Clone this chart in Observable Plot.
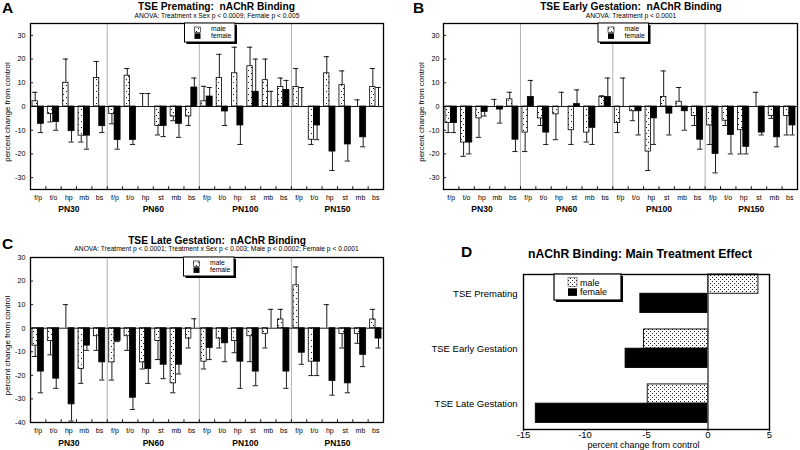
<!DOCTYPE html>
<html><head><meta charset="utf-8">
<script src="https://cdn.jsdelivr.net/npm/d3@7"></script>
<script src="https://cdn.jsdelivr.net/npm/@observablehq/plot@0.6"></script>
<style>
html,body{margin:0;padding:0;background:#fff;}
#root{position:relative;width:800px;height:450px;overflow:hidden;font-family:"Liberation Sans",Arial,sans-serif;}
.panel{position:absolute;}
#overlay{position:absolute;left:0;top:0;pointer-events:none;}
</style></head><body>
<svg width="0" height="0" style="position:absolute">
<defs>
<pattern id="stip" width="5" height="6" patternUnits="userSpaceOnUse"><rect width="5" height="6" fill="white"/><rect x="1" y="1" width="1" height="1" fill="#111"/><rect x="3" y="4" width="1" height="1" fill="#111"/></pattern>
<pattern id="stipD" width="4" height="4" patternUnits="userSpaceOnUse"><rect width="4" height="4" fill="white"/><rect x="0" y="0" width="1" height="1" fill="#222"/><rect x="2" y="2" width="1" height="1" fill="#222"/></pattern>
</defs></svg>
<div id="root"></div>
<script>
// ---------- data ----------
const ages = ["PN30", "PN60", "PN100", "PN150"];
const regionsPN30 = ["f/p", "t/o", "hp", "mb", "bs"];
const regionsLater = ["f/p", "t/o", "hp", "st", "mb", "bs"];
const regionsByAge = [regionsPN30, regionsLater, regionsLater, regionsLater];

// A: TSE Premating
const premMale      = [2.2, -3.2, 10, -12.3, 12,  -3.2, 13, 0, -8.2, -4.2, -4.2,  2.2, 12, 14, 17, 11.1, 8.2,  8.2, -14, 14, 9, 0, 8.2];
const premMaleSem   = [3.8, 3.3, 10, 2.7, 7,  4.1, 3, 5.5, 3.8, 1.8, 3.8,  6.3, 10, 11, 8, 8.9, 3.8,  7.8, 2, 7, 6, 2.8, 7.8];
const premFemale    = [-7.3, -6.5, -10.4, -12.3, -8.3,  -14.1, -14.1, 0, -8.2, -7.3, 8,  4.2, -2.1, -8, 6.2, 0, 7,  0, -8, -19, -16, -13, 0];
const premFemaleSem = [3.7, 3.5, 4.6, 5.7, 2.7,  3.9, 1.9, 5.5, 4.5, 5.7, 4,  3.8, 5.9, 8, 13.8, 6.4, 4,  8, 6, 8, 7, 4, 8];

// B: TSE Early Gestation
const earlyMale      = [-7, -15.2, -5, 0, 3,  -11, -5, -3.3, -10, -11, 4,  -7, -2, -19, 4, 2, -4,  -8, -6, -10, 0, -4, -4];
const earlyMaleSem   = [4, 5.8, 8, 3, 3,  8, 3, 10.7, 6, 4, 0.5,  4, 4, 8, 11, 6, 4,  8, 2, 10, 6, 1, 8];
const earlyFemale    = [-7, -15.2, -2.3, -1.3, -14,  4, -11, 0, 1, -9, 4,  0, -2, -5, -3, -2, -14,  -20, -12, -17, -11, -13, -8];
const earlyFemaleSem = [4, 4.8, 1.7, 5.7, 5,  7, 5, 6, 6, 7, 8,  12, 10, 11, 9, 8, 4,  8, 8, 3, 1, 4, 4];

// C: TSE Late Gestation
const lateMale      = [-7.4, -5.4, 0, -17.3, -3.4,  -14.5, -3.4, -14.5, -5.4, -23.4, -4.4,  -14.2, -4.4, -5.4, -3.4, -2.4, 3.7,  18.2, -14.2, 0, -2.4, -2.4, 3.7];
const lateMaleSem   = [4.6, 5.9, 10, 6.1, 6,  7.5, 6, 2.8, 7.9, 4, 4,  3.1, 4, 5, 10.8, 6, 4.3,  7.8, 5.9, 10, 6, 4, 4.3];
const lateFemale    = [-18.4, -21.4, -32.3, -7.4, -14.5,  -5.4, -29.5, -17.3, -15.5, -15.5, 0,  -8.4, -6.4, -14.2, -18.4, 0, -18.4,  -10.4, -14.2, -22.4, -23.4, -11.3, -4.4];
const lateFemaleSem = [9, 4.1, 7.1, 2, 7.5,  0.3, 5, 6.1, 5.9, 3.9, 4,  4.9, 7.8, 11.3, 6, 8, 7.1,  4.9, 5.9, 6, 4, 5, 4];

// D: main treatment effect
const treatments = ["TSE Premating", "TSE Early Gestation", "TSE Late Gestation"];
const mainMale   = [4.1, -5.2, -4.9];
const mainFemale = [-5.5, -6.7, -14.0];

const ticksAB = [30, 20, 10, 0, -10, -20, -30];
const ticksC  = [30, 20, 10, 0, -10, -20, -30, -40];
const ticksD  = [-15, -10, -5, 0, 5];

// ---------- derived ----------
const slots = [];
regionsByAge.forEach((regs, g) => regs.forEach(r => slots.push({age: ages[g], region: r, i: slots.length})));
const groups = ages.map(a => {
  const s = slots.filter(d => d.age === a);
  return {age: a, start: s[0].i, end: s[s.length - 1].i + 1};
});

const FONT = "'Liberation Sans', Arial, Helvetica, sans-serif";
const root = document.getElementById("root");

function place(node, left, top) {
  const div = document.createElement("div");
  div.className = "panel";
  div.style.left = left + "px";
  div.style.top = top + "px";
  div.appendChild(node);
  root.appendChild(div);
}

function barPanel(o) {
  const rows = [];
  slots.forEach((s, k) => {
    rows.push({i: s.i, sex: "male", value: o.male[k], sem: o.maleSem[k]});
    rows.push({i: s.i, sex: "female", value: o.female[k], sem: o.femaleSem[k]});
  });
  const span = {male: [0.13, 0.48], female: [0.48, 0.87]};
  const ctr = d => d.i + (span[d.sex][0] + span[d.sex][1]) / 2;
  const end = d => d.value + (d.value < 0 ? -1 : 1) * d.sem;
  const [y0, y1] = o.yDomain;
  return Plot.plot({
    width: 400, height: 225,
    marginLeft: o.ml, marginRight: o.mr, marginTop: o.mt, marginBottom: o.mb,
    x: {domain: [0, slots.length], axis: null},
    y: {domain: o.yDomain, ticks: o.yTicks, tickSize: 0, tickPadding: o.tp, label: null, tickFormat: d => String(d)},
    style: {fontFamily: FONT, fontSize: "7.2px", background: "transparent", overflow: "visible"},
    marks: [
      Plot.ruleX(groups.slice(1), {x: "start", stroke: "#a8a8a8", strokeWidth: 0.9}),
      Plot.ruleX(rows, {x: ctr, y1: "value", y2: end, stroke: "black", strokeWidth: 0.9}),
      Plot.ruleY(rows, {y: end, x1: d => ctr(d) - 0.17, x2: d => ctr(d) + 0.17, stroke: "black", strokeWidth: 0.9}),
      Plot.rectY(rows.filter(d => d.sex === "male"), {x1: d => d.i + span.male[0], x2: d => d.i + span.male[1], y1: () => 0, y2: "value", fill: "url(#stip)", stroke: "black", strokeWidth: 0.8}),
      Plot.rectY(rows.filter(d => d.sex === "female"), {x1: d => d.i + span.female[0], x2: d => d.i + span.female[1], y1: () => 0, y2: "value", fill: "black", stroke: "black", strokeWidth: 0.8}),
      Plot.ruleY([0], {stroke: "black", strokeWidth: 0.9}),
      Plot.ruleY(o.yTicks, {y: d => d, x1: () => 0, x2: () => 0.2, stroke: "black", strokeWidth: 0.9}),
      Plot.ruleX(d3.range(1, slots.length), {x: d => d, y1: () => y0, y2: () => y0 + (y1 - y0) * 0.017, stroke: "black", strokeWidth: 0.9}),
      Plot.text(slots, {x: d => d.i + 0.5, y: () => y0, text: "region", dy: o.labDy, fontSize: 7, fontFamily: FONT}),
      Plot.text(groups, {x: d => (d.start + d.end) / 2, y: () => y0, text: "age", dy: o.grpDy, fontSize: 8.5, fontWeight: "bold", fontFamily: FONT}),
      Plot.text(["percent change from control"], {text: d => d, frameAnchor: "left", textAnchor: "middle", lineAnchor: "middle", dx: o.titleDx, dy: 5.5, rotate: -90, fontSize: 8, fontFamily: FONT}),
      Plot.frame({stroke: "black", strokeWidth: 1.3})
    ]
  });
}

place(barPanel({male: premMale, maleSem: premMaleSem, female: premFemale, femaleSem: premFemaleSem,
  yDomain: [-35, 35], yTicks: ticksAB, ml: 30, mr: 17, mt: 23, mb: 36, tp: 5, labDy: 8, grpDy: 20, titleDx: -23}), 0, 0);
place(barPanel({male: earlyMale, maleSem: earlyMaleSem, female: earlyFemale, femaleSem: earlyFemaleSem,
  yDomain: [-35, 35], yTicks: ticksAB, ml: 43, mr: 3, mt: 23, mb: 36, tp: 4, labDy: 8, grpDy: 20, titleDx: -22}), 400, 0);
place(barPanel({male: lateMale, maleSem: lateMaleSem, female: lateFemale, femaleSem: lateFemaleSem,
  yDomain: [-40, 30], yTicks: ticksC, ml: 30, mr: 17, mt: 32, mb: 28, tp: 5, labDy: 8, grpDy: 21, titleDx: -23}), 0, 225);

// Panel D
(function () {
  const H = 225, mt = 49, mb = 21;
  const inner = H - mt - mb;
  const pIn = 0.3, pOut = 0.06;
  const step = inner / (treatments.length - pIn + 2 * pOut);
  const half = step * (1 - pIn) / 2;
  const maleRows = treatments.map((t, k) => ({t, v: mainMale[k]}));
  const femaleRows = treatments.map((t, k) => ({t, v: mainFemale[k]}));
  const p = Plot.plot({
    width: 400, height: H, marginLeft: 123, marginRight: 31, marginTop: mt, marginBottom: mb,
    x: {domain: [-15, 5], ticks: ticksD, tickSize: 2, tickPadding: 0, tickFormat: d => String(d), label: null},
    y: {domain: treatments, paddingInner: pIn, paddingOuter: pOut, align: 0, round: false, tickSize: 0, tickPadding: 6, label: null},
    style: {fontFamily: FONT, fontSize: "9.5px", background: "transparent", overflow: "visible"},
    marks: [
      Plot.barX(maleRows, {x: "v", y: "t", fill: "url(#stipD)", stroke: "black", strokeWidth: 0.9, insetBottom: half}),
      Plot.barX(femaleRows, {x: "v", y: "t", fill: "black", stroke: "black", strokeWidth: 0.9, insetTop: half}),
      Plot.ruleX([0], {stroke: "#555", strokeWidth: 1.6}),
      Plot.text(["percent change from control"], {text: d => d, frameAnchor: "bottom", textAnchor: "middle", lineAnchor: "middle", dy: 15.5, dx: -3, fontSize: 9, fontFamily: FONT}),
      Plot.frame({stroke: "black", strokeWidth: 1.4})
    ]
  });
  place(p, 400, 225);
})();

// ---------- overlay: titles, letters, legends ----------
const ov = d3.select(root).append("svg").attr("id", "overlay").attr("width", 800).attr("height", 450)
  .style("font-family", FONT);

function txt(x, y, s, size, weight, anchor) {
  ov.append("text").attr("x", x).attr("y", y).attr("font-size", size).attr("font-weight", weight || "normal")
    .attr("text-anchor", anchor || "start").attr("fill", "black").style("white-space", "pre").text(s);
}
txt(2, 13, "A", 15.5, "bold");
txt(413, 13, "B", 15.5, "bold");
txt(2, 249, "C", 15.5, "bold");
txt(461, 257, "D", 15.5, "bold");

txt(216.5, 10.3, "TSE Premating:  nAChR Binding", 10.2, "bold", "middle");
txt(217, 18, "ANOVA: Treatment x Sex p < 0.0009; Female p < 0.005", 6.7, "normal", "middle");
txt(631, 10.3, "TSE Early Gestation:  nAChR Binding", 10.2, "bold", "middle");
txt(631, 18, "ANOVA: Treatment p < 0.0001", 6.7, "normal", "middle");
txt(217, 243.5, "TSE Late Gestation:  nAChR Binding", 10.2, "bold", "middle");
txt(216.5, 251.3, "ANOVA: Treatment p < 0.0001; Treatment x Sex p < 0.003; Male p < 0.0002; Female p < 0.0001", 6.7, "normal", "middle");
txt(640, 257.7, "nAChR Binding: Main Treatment Effect", 12.2, "bold", "middle");

function smallLegend(L, T) {
  const g = ov.append("g");
  g.append("rect").attr("x", L + 2).attr("y", T + 2).attr("width", 50.5).attr("height", 19).attr("fill", "black");
  g.append("rect").attr("x", L).attr("y", T).attr("width", 50.5).attr("height", 19).attr("fill", "white").attr("stroke", "black").attr("stroke-width", 1);
  g.append("rect").attr("x", L + 10).attr("y", T + 4).attr("width", 6).attr("height", 5.5).attr("fill", "url(#stip)").attr("stroke", "black").attr("stroke-width", 0.6);
  g.append("rect").attr("x", L + 10).attr("y", T + 10.3).attr("width", 6).attr("height", 5.6).attr("fill", "black");
  g.append("text").attr("x", L + 26.5).attr("y", T + 8.4).attr("font-size", 6.8).text("male");
  g.append("text").attr("x", L + 26.5).attr("y", T + 14.8).attr("font-size", 6.8).text("female");
}
smallLegend(184.5, 23);
smallLegend(598, 23);
smallLegend(183.5, 257);

(function () {
  const L = 554, T = 274;
  const g = ov.append("g");
  g.append("rect").attr("x", L + 2).attr("y", T + 2).attr("width", 67).attr("height", 26).attr("fill", "black");
  g.append("rect").attr("x", L).attr("y", T).attr("width", 67).attr("height", 26).attr("fill", "white").attr("stroke", "black").attr("stroke-width", 1.2);
  g.append("rect").attr("x", L + 14).attr("y", T + 3.3).attr("width", 9).attr("height", 9.4).attr("fill", "url(#stipD)").attr("stroke", "#333").attr("stroke-width", 0.5);
  g.append("rect").attr("x", L + 14).attr("y", T + 14.3).attr("width", 9).attr("height", 7.6).attr("fill", "black");
  g.append("text").attr("x", L + 26).attr("y", T + 11.5).attr("font-size", 9).text("male");
  g.append("text").attr("x", L + 26).attr("y", T + 20.5).attr("font-size", 9).text("female");
})();
</script>
</body></html>
